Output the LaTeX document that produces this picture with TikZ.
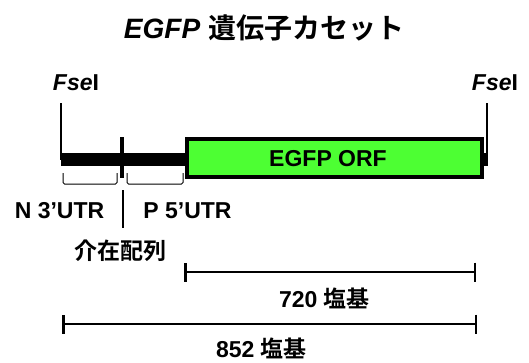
\documentclass[tikz,border=0pt]{standalone}
\usepackage{fontspec}
\setmainfont{Liberation Sans}
\newfontfamily\cjk{Noto Sans CJK JP}[BoldFont={Noto Sans CJK JP Bold}]
\usetikzlibrary{calc,positioning,arrows.meta}
\pgfdeclarelayer{back}
\pgfsetlayers{back,main}
\definecolor{orfgreen}{RGB}{77,255,51}
\tikzset{
  label text/.style={font=\bfseries\fontsize{23}{23}\selectfont, inner sep=0pt},
  site line/.style={line width=2pt},
  utr brace/.style={line width=1pt, rounded corners=1.5pt},
  scale bar/.style={line width=2.5pt, {Bar[width=19pt,line width=2.5pt]}-{Bar[width=19pt,line width=2.5pt]}}
}

\begin{document}
\begin{tikzpicture}[x=1pt,y=-1pt]
  \useasboundingbox (0,0) rectangle (529,362);
  \node (title) [font=\bfseries\fontsize{28}{28}\selectfont, inner sep=0pt] at (264,28) {\textit{EGFP} {\cjk 遺伝子カセット}};

  \node (orf) [draw, line width=4pt, fill=orfgreen, minimum width=295pt, minimum height=38pt, inner sep=0pt] at (334.5,158) {};
  \node (orf_label) [label text] at (328,158.5) {EGFP ORF};
  \node (siteL) [coordinate] at (61,159.5) {};
  \node (siteR) [coordinate] at (488,159.5) {};
  \begin{pgfonlayer}{back}
    \fill ([yshift=-6.5pt]siteL) rectangle ([yshift=6.5pt]siteR);
  \end{pgfonlayer}

  % restriction sites
  \node (siteL_top) [coordinate] at (61,103) {};
  \node (siteR_top) [coordinate] at (487,103) {};
  \draw[site line] (siteL_top) -- (siteL);
  \draw[site line] (siteR_top) -- ([xshift=-1pt]siteR);
  \node (fseL_label) [label text] at (76,83) {\textit{Fse}I};
  \node (fseR_label) [label text] at (495,83) {\textit{Fse}I};

  \node (div_top) [coordinate] at (122,137) {};
  \node (div_bot) [coordinate] at (122,178) {};
  \draw[line width=3.5pt] (div_top) -- (div_bot);
  \draw[utr brace] (63,173) |- (117,184) -- (117,173);
  \draw[utr brace] (127,173) |- (183,184) -- (183,173);
  \node (n3utr_label) [label text] at (59.5,211) {N 3’UTR};
  \node (p5utr_label) [label text] at (187.5,211) {P 5’UTR};
  \node (sep_top) [coordinate] at (123,190) {};
  \node (sep_bot) [coordinate] at (123,228) {};
  \draw[site line] (sep_top) -- (sep_bot);
  \node (intron_label) [label text] at (120.5,251) {\cjk 介在配列};

  % lengths
  \node (orf_start) [coordinate] at (184,272) {};
  \node (orf_end) [coordinate] at (476,272) {};
  \draw[scale bar] (orf_start) -- (orf_end);
  \node (orf_len) [label text] at (324.5,298.5) {720 {\cjk 塩基}};
  \node (cas_start) [coordinate] at (62,324) {};
  \node (cas_end) [coordinate] at (477,324) {};
  \draw[scale bar] (cas_start) -- (cas_end);
  \node (cas_len) [label text] at (261.5,348.5) {852 {\cjk 塩基}};
\end{tikzpicture}
\end{document}
